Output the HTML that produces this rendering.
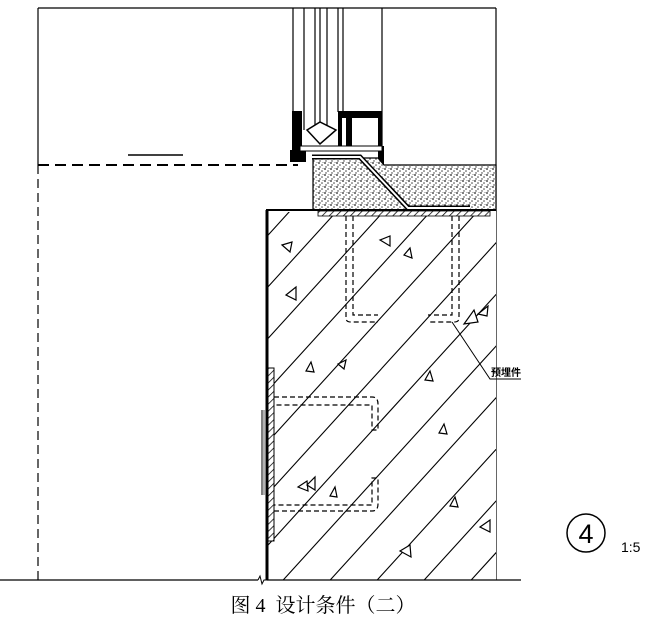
<!DOCTYPE html>
<html><head><meta charset="utf-8"><style>
html,body{margin:0;padding:0;background:#fff;}
svg{display:block}
</style></head><body>
<svg width="647" height="618" viewBox="0 0 647 618" xmlns="http://www.w3.org/2000/svg">
<defs>
<pattern id="gr" width="6" height="6" patternUnits="userSpaceOnUse">
<rect width="6" height="6" fill="#fff"/>
<circle cx="1" cy="1" r="0.9" fill="#222"/><circle cx="4" cy="3" r="0.8" fill="#444"/><circle cx="2" cy="5" r="0.7" fill="#333"/><circle cx="5" cy="0.5" r="0.5" fill="#555"/>
</pattern>
<pattern id="hs" width="5" height="5" patternUnits="userSpaceOnUse" patternTransform="rotate(45)">
<rect width="5" height="5" fill="#fff"/><line x1="0" y1="0" x2="0" y2="5" stroke="#000" stroke-width="1.5"/>
</pattern>
<clipPath id="wall"><rect x="267" y="212" width="229" height="368"/></clipPath>
</defs>
<g stroke="#000" fill="none" stroke-width="1.2">
<line x1="38" y1="8" x2="496" y2="8"/>
<line x1="38" y1="8" x2="38" y2="165"/>
<line x1="496" y1="8" x2="496" y2="580"/>
<line x1="38" y1="165" x2="38" y2="580" stroke-dasharray="9,5"/>
<line x1="38" y1="165" x2="298" y2="165" stroke-width="2" stroke-dasharray="11,6"/>
<line x1="128" y1="155" x2="183" y2="155" stroke-width="1.5"/>
<line x1="293" y1="8" x2="293" y2="112"/>
<line x1="304" y1="8" x2="304" y2="130"/>
<line x1="315" y1="8" x2="315" y2="125"/>
<line x1="320" y1="8" x2="320" y2="125"/>
<line x1="327" y1="8" x2="327" y2="125"/>
<line x1="338" y1="8" x2="338" y2="112"/>
<line x1="343" y1="8" x2="343" y2="112"/>
<line x1="382" y1="8" x2="382" y2="158"/>
</g>
<rect x="292" y="111" width="10" height="50" fill="#000"/>
<rect x="290" y="150" width="16" height="12" fill="#000"/>
<rect x="338" y="111" width="44" height="40" fill="#000"/>
<rect x="352" y="118" width="26" height="28" fill="#fff"/>
<rect x="342" y="118" width="4" height="30" fill="#fff"/>
<rect x="378" y="146" width="6" height="20" fill="#000"/>
<rect x="300" y="146" width="82" height="5" fill="#fff" stroke="#000" stroke-width="1"/>
<polygon points="307,130 320,144 336,130 320,122" fill="#fff" stroke="#000" stroke-width="1.5"/>
<polygon points="313,158 378,158 384,165 496,165 496,211 313,211" fill="url(#gr)" stroke="#000" stroke-width="1.2"/>
<polyline points="312,157 360,157 408,208 470,208" fill="none" stroke="#000" stroke-width="5"/>
<polyline points="312,157 360,157 408,208 470,208" fill="none" stroke="#fff" stroke-width="2"/>
<rect x="267" y="211" width="229" height="369" fill="#fff"/>
<g clip-path="url(#wall)" stroke="#000" stroke-width="1.1">
<line x1="300" y1="200" x2="-64" y2="600"/><line x1="347" y1="200" x2="-17" y2="600"/>
<line x1="394" y1="200" x2="30" y2="600"/><line x1="441" y1="200" x2="77" y2="600"/>
<line x1="488" y1="200" x2="124" y2="600"/><line x1="535" y1="200" x2="171" y2="600"/>
<line x1="582" y1="200" x2="218" y2="600"/><line x1="629" y1="200" x2="265" y2="600"/>
<line x1="676" y1="200" x2="312" y2="600"/><line x1="723" y1="200" x2="359" y2="600"/>
<line x1="770" y1="200" x2="406" y2="600"/><line x1="817" y1="200" x2="453" y2="600"/>
<line x1="864" y1="200" x2="500" y2="600"/><line x1="911" y1="200" x2="547" y2="600"/>
</g>
<line x1="266" y1="210" x2="496" y2="210" stroke="#000" stroke-width="2"/>
<line x1="267" y1="210" x2="267" y2="580" stroke="#000" stroke-width="3"/>
<rect x="318" y="211" width="172" height="5" fill="url(#hs)" stroke="#000" stroke-width="0.8"/>
<rect x="268" y="368" width="6" height="173" fill="url(#hs)" stroke="#000" stroke-width="1"/>
<line x1="262" y1="410" x2="262" y2="495" stroke="#000" stroke-width="1"/>
<line x1="264" y1="410" x2="264" y2="495" stroke="#000" stroke-width="0.6"/>
<g fill="none" stroke="#000" stroke-width="1.2" stroke-dasharray="5,3">
<path d="M346,216 V318 Q346,322 351,322 H378"/>
<path d="M353,216 V315 H378"/>
<path d="M459,216 V318 Q459,322 454,322 H428"/>
<path d="M452,216 V315 H428"/>
<path d="M274,397 H372 Q378,397 378,404 V430 H372 V405 H274"/>
<path d="M274,511 H372 Q378,511 378,504 V478 H372 V505 H274"/>
</g>
<g fill="#fff" stroke="#000" stroke-width="1.2">
<polygon points="282,245 292,242 290,252"/><polygon points="380,240 390,236 390,246"/>
<polygon points="404,255 410,248 412,258"/><polygon points="286,295 296,287 296,300"/>
<polygon points="464,324 474,310 478,322"/><polygon points="478,314 488,306 487,316"/>
<polygon points="306,371 311,362 314,372"/><polygon points="338,364 346,360 344,369"/>
<polygon points="425,380 430,371 433,381"/><polygon points="439,433 444,424 447,434"/>
<polygon points="298,487 307,481 308,491"/>
<polygon points="307,485 315,477 315,490"/><polygon points="330,496 335,487 337,497"/>
<polygon points="450,506 455,497 458,507"/><polygon points="480,527 490,520 490,532"/>
<polygon points="400,551 410,545 411,557"/>
</g>
<polyline points="452,322 490,379 521,379" fill="none" stroke="#000" stroke-width="1"/>
<text x="491" y="376" font-family="Liberation Sans, 'Noto Sans CJK SC', sans-serif" font-size="10" font-weight="bold">预埋件</text>
<line x1="0" y1="580" x2="258" y2="580" stroke="#000" stroke-width="1.2"/>
<polyline points="258,580 260,576 262,584 264,580 267,580" fill="none" stroke="#000" stroke-width="1"/>
<line x1="267" y1="580" x2="521" y2="580" stroke="#000" stroke-width="1.2"/>
<circle cx="586" cy="533" r="19" fill="none" stroke="#000" stroke-width="1.5"/>
<text x="586" y="543" text-anchor="middle" font-family="Liberation Sans, sans-serif" font-size="27">4</text>
<text x="621" y="552" font-family="Liberation Sans, sans-serif" font-size="14">1:5</text>
<text x="323" y="612" text-anchor="middle" font-family="'Liberation Serif','Noto Serif CJK SC',serif" font-size="20">图&#160;4&#160;&#160;设计条件（二）</text>
</svg>
</body></html>
